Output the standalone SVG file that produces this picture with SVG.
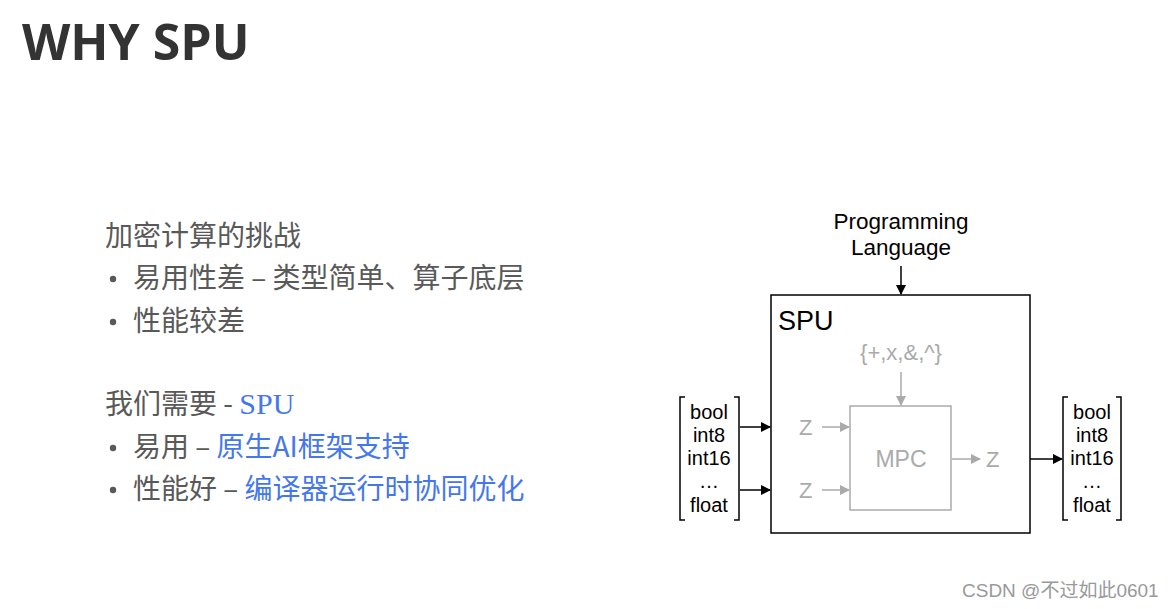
<svg xmlns="http://www.w3.org/2000/svg" width="1175" height="609" viewBox="0 0 1175 609">
<style>
.title{font-family:"Open Sans","Noto Sans",sans-serif;font-weight:bold;font-size:50px;fill:#333}
.cn{font-family:"Noto Sans CJK SC",sans-serif;font-size:28px;fill:#595959}
.blue{fill:#4477ee}
.serif{font-family:"Liberation Serif","Noto Sans CJK SC",serif;font-size:30px}
.d{font-family:"Liberation Sans",sans-serif;fill:#000}
.g{font-family:"Liberation Sans",sans-serif;fill:#aaa}
.wm{font-family:"Liberation Sans","Noto Sans CJK SC",sans-serif;font-size:19px;fill:#999}
.blk{stroke:#000;stroke-width:1.5;fill:none}
.gry{stroke:#aaa;stroke-width:1.5;fill:none}
.dot{fill:#595959}
</style>
<defs>
<marker id="ab" markerWidth="10" markerHeight="10" refX="9" refY="5" orient="auto" markerUnits="userSpaceOnUse"><path d="M0,0 L10,5 L0,10 z" fill="#000"/></marker>
<marker id="ag" markerWidth="10" markerHeight="10" refX="9" refY="5" orient="auto" markerUnits="userSpaceOnUse"><path d="M0,0 L10,5 L0,10 z" fill="#aaa"/></marker>
</defs>
<rect width="1175" height="609" fill="#fff"/>
<text class="title" x="22" y="60">WHY SPU</text>
<g id="bullets">
<text class="cn" x="105" y="246">加密计算的挑战</text>
<circle class="dot" cx="113" cy="279" r="3.2"/>
<text class="cn" x="133" y="288">易用性差 – 类型简单、算子底层</text>
<circle class="dot" cx="113" cy="322" r="3.2"/>
<text class="cn" x="133" y="331">性能较差</text>
<text class="cn" x="105" y="414">我们需要 - <tspan class="blue serif">SPU</tspan></text>
<circle class="dot" cx="113" cy="448" r="3.2"/>
<text class="cn" x="133" y="457">易用 – <tspan class="blue">原生AI框架支持</tspan></text>
<circle class="dot" cx="113" cy="490" r="3.2"/>
<text class="cn" x="133" y="499">性能好 – <tspan class="blue">编译器运行时协同优化</tspan></text>
</g>
<g id="lang">
<text class="d" x="901" y="229" font-size="22.5" text-anchor="middle">Programming</text>
<text class="d" x="901" y="255" font-size="22.5" text-anchor="middle">Language</text>
</g>
<g id="spu">
<rect x="771" y="295" width="259" height="238" class="blk"/>
<text class="d" x="778" y="330" font-size="27">SPU</text>
</g>
<g id="ops"><text class="g" x="901" y="360" font-size="22" text-anchor="middle">{+,x,&amp;,^}</text></g>
<g id="mpc">
<rect x="850" y="406" width="101" height="104" class="gry"/>
<text class="g" x="901" y="467" font-size="23" text-anchor="middle">MPC</text>
</g>
<g id="zin1"><text class="g" x="799" y="435" font-size="22">Z</text></g>
<g id="zin2"><text class="g" x="799" y="498" font-size="22">Z</text></g>
<g id="zout"><text class="g" x="986" y="467" font-size="22">Z</text></g>
<g id="typesIn">
<path d="M685,397 H680 V520 H685 M734,397 H739 V520 H734" class="blk"/>
<g class="d" font-size="20" text-anchor="middle">
<text x="709" y="419">bool</text>
<text x="709" y="442">int8</text>
<text x="709" y="465">int16</text>
<text x="709" y="488">…</text>
<text x="709" y="512">float</text>
</g>
</g>
<g id="typesOut">
<path d="M1068,397 H1063 V520 H1068 M1116,397 H1121 V520 H1116" class="blk"/>
<g class="d" font-size="20" text-anchor="middle">
<text x="1092" y="419">bool</text>
<text x="1092" y="442">int8</text>
<text x="1092" y="465">int16</text>
<text x="1092" y="488">…</text>
<text x="1092" y="512">float</text>
</g>
</g>
<g id="connectors">
<line x1="901" y1="266" x2="901" y2="294" class="blk" marker-end="url(#ab)"/>
<line x1="740" y1="427" x2="770" y2="427" class="blk" marker-end="url(#ab)"/>
<line x1="740" y1="490" x2="770" y2="490" class="blk" marker-end="url(#ab)"/>
<line x1="1030" y1="459" x2="1062" y2="459" class="blk" marker-end="url(#ab)"/>
<line x1="901" y1="372" x2="901" y2="405" class="gry" marker-end="url(#ag)"/>
<line x1="822" y1="427" x2="849" y2="427" class="gry" marker-end="url(#ag)"/>
<line x1="822" y1="490" x2="849" y2="490" class="gry" marker-end="url(#ag)"/>
<line x1="952" y1="459" x2="980" y2="459" class="gry" marker-end="url(#ag)"/>
</g>
<text class="wm" x="962" y="597">CSDN @不过如此0601</text>
</svg>
